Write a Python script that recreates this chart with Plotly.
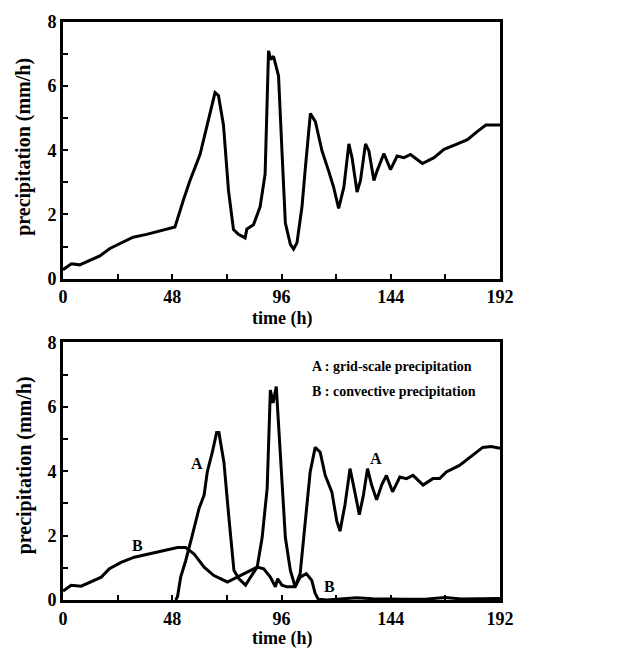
import plotly.graph_objects as go
from plotly.subplots import make_subplots

# Top panel: total precipitation
t_total = [0, 0.7, 3.7, 7.3, 11.7, 16.2, 20.6, 25, 30.8, 36.7, 42.6, 49.2, 52.9, 55.8, 60.2, 63.9,
           66.8, 68.3, 70.5, 72.7, 74.9, 77.1, 80, 80.8, 83.7, 86.6, 88.8, 90.3, 91.3, 92.5, 94.7,
           96.2, 97.7, 99.9, 101.3, 102.8, 105, 106.5, 108.7, 110.9, 113.8, 116.7, 118.9, 121.1,
           123.4, 125.6, 127, 129.2, 130.7, 132.9, 134.4, 136.6, 138, 141, 143.9, 146.8, 149.8,
           152.7, 157.9, 163, 167.4, 172.5, 177.7, 182.1, 185.8, 191.6, 192]
p_total = [0.28, 0.31, 0.46, 0.43, 0.56, 0.71, 0.94, 1.1, 1.29, 1.38, 1.48, 1.61, 2.45, 3.06, 3.87, 4.99,
           5.8, 5.71, 4.79, 2.75, 1.53, 1.38, 1.27, 1.55, 1.68, 2.24, 3.26, 7.1, 6.83, 6.93, 6.32,
           3.98, 1.73, 1.07, 0.92, 1.12, 2.24, 3.47, 5.15, 4.89, 3.98, 3.36, 2.85, 2.19,
           2.85, 4.2, 3.77, 2.7, 3.06, 4.2, 3.98, 3.06, 3.36, 3.9, 3.4, 3.82, 3.77,
           3.87, 3.59, 3.77, 4.03, 4.18, 4.33, 4.59, 4.79, 4.79, 4.79]

# Bottom panel: A = grid-scale precipitation
t_grid = [49.5, 50.3, 51.7, 53.9, 56.9, 59.8, 62, 63.4, 65.6, 67.5, 68.5, 70.7, 72.9, 75.1, 77.3, 80.2,
          82.4, 85.3, 87.5, 89.7, 91.1, 92.3, 93.7, 95.5, 97.7, 99.9, 102, 104.2, 106.4, 108.6,
          110.8, 113, 115.2, 118.1, 120.3, 121.7, 123.9, 126.1, 127.6, 130.2, 132, 133.8, 135.6,
          137.8, 140, 142.1, 144.8, 148, 150.9, 153.8, 158.2, 162.5, 165.5, 168.4, 174.2, 180.1,
          184.4, 188.1, 192]
p_grid = [0, 0.1, 0.71, 1.22, 2.04, 2.85, 3.26, 3.98, 4.59, 5.2, 5.2, 4.28, 2.55, 0.92, 0.66, 0.46,
          0.71, 1.02, 1.94, 3.47, 6.52, 6.12, 6.63, 4.49, 1.94, 0.92, 0.41, 0.82, 2.45, 3.98,
          4.74, 4.59, 3.87, 3.36, 2.45, 2.14, 2.96, 4.08, 3.57, 2.65, 3.26, 4.08, 3.57,
          3.11, 3.57, 3.87, 3.36, 3.82, 3.77, 3.87, 3.57, 3.77, 3.77, 3.98, 4.18, 4.49,
          4.74, 4.77, 4.71]

# Bottom panel: B = convective precipitation
t_conv = [0, 0.7, 3.6, 8, 12.4, 16.8, 20.4, 25.5, 31.3, 37.2, 44.5, 50.3, 53.9, 57.6, 62, 66.3, 72.2,
          76.5, 80.9, 85.3, 88.2, 91.1, 93.3, 94.3, 96.2, 98.4, 102, 104.2, 106.9, 109.3, 110.8,
          112.2, 115.9, 122, 129, 136, 150, 160, 168, 175, 192]
p_conv = [0.28, 0.31, 0.46, 0.43, 0.56, 0.71, 0.97, 1.17, 1.33, 1.43, 1.53, 1.63, 1.63, 1.43, 1.02,
          0.76, 0.56, 0.71, 0.87, 1.02, 0.97, 0.71, 0.41, 0.66, 0.46, 0.41, 0.41, 0.71, 0.82, 0.61,
          0.2, 0.02, 0.0, 0.03, 0.07, 0.04, 0.02, 0.03, 0.08, 0.03, 0.05]

x_ticks = [0, 48, 96, 144, 192]
y_ticks = [0, 2, 4, 6, 8]
legend_lines = ["A : grid-scale precipitation", "B : convective precipitation"]

FONT = "Liberation Serif"
fig = make_subplots(rows=2, cols=1, vertical_spacing=0.11)

line = dict(color="black", width=3)
fig.add_trace(go.Scatter(x=t_total, y=p_total, mode="lines", line=line, showlegend=False), row=1, col=1)
fig.add_trace(go.Scatter(x=t_grid, y=p_grid, mode="lines", line=line, showlegend=False), row=2, col=1)
fig.add_trace(go.Scatter(x=t_conv, y=p_conv, mode="lines", line=line, showlegend=False), row=2, col=1)

tickfont = dict(family=FONT, size=18, color="black", weight="bold")
for r in (1, 2):
    fig.update_xaxes(range=[0, 192], tickvals=x_ticks, ticktext=[str(v) for v in x_ticks],
                     ticks="inside", ticklen=5, tickwidth=2, tickcolor="black",
                     minor=dict(tickvals=[24, 72, 120, 168], ticks="inside", ticklen=5, tickwidth=2, tickcolor="black"),
                     showline=True, linewidth=3, linecolor="black", mirror=True,
                     showgrid=False, zeroline=False, tickfont=tickfont, row=r, col=1)
    fig.update_yaxes(range=[0, 8], tickvals=y_ticks, ticks="inside", ticklen=5, tickwidth=2, tickcolor="black",
                     minor=dict(tickvals=[1, 3, 5, 7], ticks="inside", ticklen=5, tickwidth=2, tickcolor="black"),
                     showline=True, linewidth=3, linecolor="black", mirror=True,
                     showgrid=False, zeroline=False, tickfont=tickfont, row=r, col=1)

fig.update_layout(
    width=625, height=650,
    margin=dict(l=63, r=125, t=12, b=50),
    plot_bgcolor="white", paper_bgcolor="white",
)
fig.layout.yaxis.domain = [0.556, 1.0]
fig.layout.yaxis2.domain = [0.0, 0.4456]

title_font = dict(family=FONT, size=18, color="black", weight="bold")
ann = []
# axis titles
ann.append(dict(text="time (h)", xref="paper", yref="paper", x=0.5, y=0.556, yshift=-40,
                showarrow=False, font=title_font, xanchor="center", yanchor="middle"))
ann.append(dict(text="time (h)", xref="paper", yref="paper", x=0.5, y=0.0, yshift=-38,
                showarrow=False, font=title_font, xanchor="center", yanchor="middle"))
for yc in (0.784, 0.233):
    ann.append(dict(text="precipitation (mm/h)", xref="paper", yref="paper", x=0, xshift=-39, y=yc,
                    textangle=-90, showarrow=False, font=dict(family=FONT, size=20, color="black", weight="bold"),
                    xanchor="center", yanchor="middle"))
# curve labels
lab_font = dict(family=FONT, size=16, color="black", weight="bold")
for txt, x, y in [("A", 58.9, 4.23), ("A", 137.6, 4.38), ("B", 32.7, 1.68), ("B", 117.2, 0.41)]:
    ann.append(dict(text=txt, x=x, y=y, xref="x2", yref="y2", showarrow=False, font=lab_font))
# legend text
leg_font = dict(family=FONT, size=14, color="black", weight="bold")
for txt, y in zip(legend_lines, [7.25, 6.48]):
    ann.append(dict(text=txt, x=108.5, y=y, xref="x2", yref="y2", showarrow=False, font=leg_font,
                    xanchor="left", yanchor="middle"))
fig.update_layout(annotations=ann)

fig.write_html("out.html")
